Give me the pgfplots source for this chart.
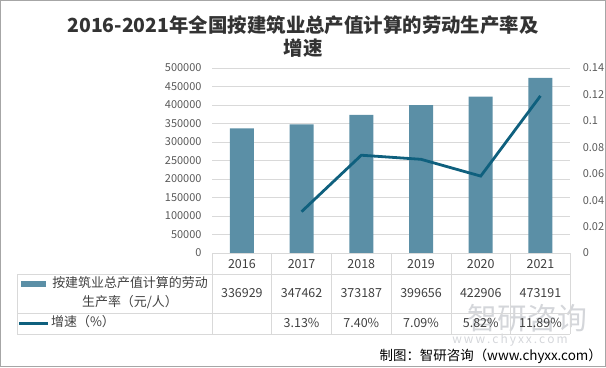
\documentclass[border=0pt]{standalone}
\usepackage{fontspec}
\setmainfont{Noto Sans CJK SC}
\usepackage{pgfplots}
\pgfplotsset{compat=1.18}
\definecolor{barc}{RGB}{91,143,166}
\definecolor{linec}{RGB}{15,96,126}
\definecolor{gridc}{RGB}{217,217,217}
\definecolor{tickc}{RGB}{89,89,89}
\definecolor{txtc}{RGB}{64,64,64}
\definecolor{wmc}{RGB}{212,214,218}
\begin{document}
\begin{tikzpicture}[x=1bp,y=1bp]
\useasboundingbox (0,0) rectangle (606,367);
\draw[gray!70, line width=1bp] (0.5,0.5) rectangle (605.5,366.5);
\node[font=\bfseries\fontsize{19.5}{23}\selectfont, align=center, text=black!80] at (303,330.5) {2016-2021年全国按建筑业总产值计算的劳动生产率及\\增速};
% watermark
\node[text=wmc, font=\fontsize{30}{32}\selectfont] at (527.5,49) {智研咨询};
\node[text=wmc, font=\fontsize{12}{14}\selectfont] at (510,27) {w\,w\,w\,.\,c\,h\,y\,x\,x\,.\,c\,o\,m};
\begin{axis}[at={(212bp,114bp)}, anchor=south west, scale only axis, width=358.3bp, height=185bp,
  xmin=-0.5, xmax=5.5, ymin=0, ymax=500000,
  ytick={0,50000,100000,150000,200000,250000,300000,350000,400000,450000,500000},
  xtick=\empty, axis line style={draw=none}, major tick length=0,
  ymajorgrids, grid style={gridc, line width=0.75bp},
  scaled y ticks=false,
  /pgf/number format/assume math mode=true,
  yticklabel={\pgfmathprintnumber[fixed,precision=0,1000 sep={}]{\tick}},
  yticklabel style={font=\fontsize{11}{13}\selectfont, text=tickc, xshift=-7bp}]
\addplot[ybar, bar width=24bp, fill=barc, draw=none] coordinates {(0,336929) (1,347462) (2,373187) (3,399656) (4,422906) (5,473191)};
\end{axis}
\begin{axis}[at={(212bp,114bp)}, anchor=south west, scale only axis, width=358.3bp, height=185bp,
  xmin=-0.5, xmax=5.5, ymin=0, ymax=0.14,
  ytick={0,0.02,0.04,0.06,0.08,0.1,0.12,0.14},
  axis y line*=right, axis x line=none, y axis line style={draw=none}, major tick length=0,
  scaled y ticks=false,
  /pgf/number format/assume math mode=true,
  yticklabel={\pgfmathprintnumber[fixed,precision=2]{\tick}},
  yticklabel style={font=\fontsize{11}{13}\selectfont, text=tickc, xshift=9bp}]
\addplot[linec, line width=2.8bp, mark=none] coordinates {(1,0.0313) (2,0.0740) (3,0.0709) (4,0.0582) (5,0.1189)};
\end{axis}
% data table
\begin{scope}[gridc, line width=0.75bp]
\draw (212,114) -- (570.3,114);
\draw (17,93) -- (570.3,93);
\draw (17,54) -- (570.3,54);
\draw (17,33) -- (570.3,33);
\draw (17,93) -- (17,33);
\foreach \i in {0,...,6} \draw (212+59.717*\i,114) -- (212+59.717*\i,33);
\end{scope}
\foreach \yr [count=\i from 0] in {2016,2017,2018,2019,2020,2021}
  \node[text=txtc, font=\fontsize{12.5}{14}\selectfont] at (241.86+59.717*\i,103) {\yr};
\foreach \v [count=\i from 0] in {336929,347462,373187,399656,422906,473191}
  \node[text=txtc, font=\fontsize{12.5}{14}\selectfont] at (241.86+59.717*\i,73.5) {\v};
\foreach \v [count=\i from 1] in {3.13\%,7.40\%,7.09\%,5.82\%,11.89\%}
  \node[text=txtc, font=\fontsize{12.5}{14}\selectfont] at (241.86+59.717*\i,44) {\v};
\fill[barc] (21,80) rectangle (46,86);
\draw[linec, line width=3bp] (19,44) -- (48,44);
\node[text=txtc, font=\fontsize{13}{19}\selectfont, align=center] at (130,74.5) {按建筑业总产值计算的劳动\\生产率（元/人）};
\node[text=txtc, font=\fontsize{13}{15}\selectfont, anchor=west, inner sep=0pt] at (51,45) {增速（\%）};
\node[text=black, font=\fontsize{13.5}{16}\selectfont, anchor=east, inner sep=0pt] at (602,11) {制图：智研咨询（www.chyxx.com）};
\end{tikzpicture}
\end{document}
